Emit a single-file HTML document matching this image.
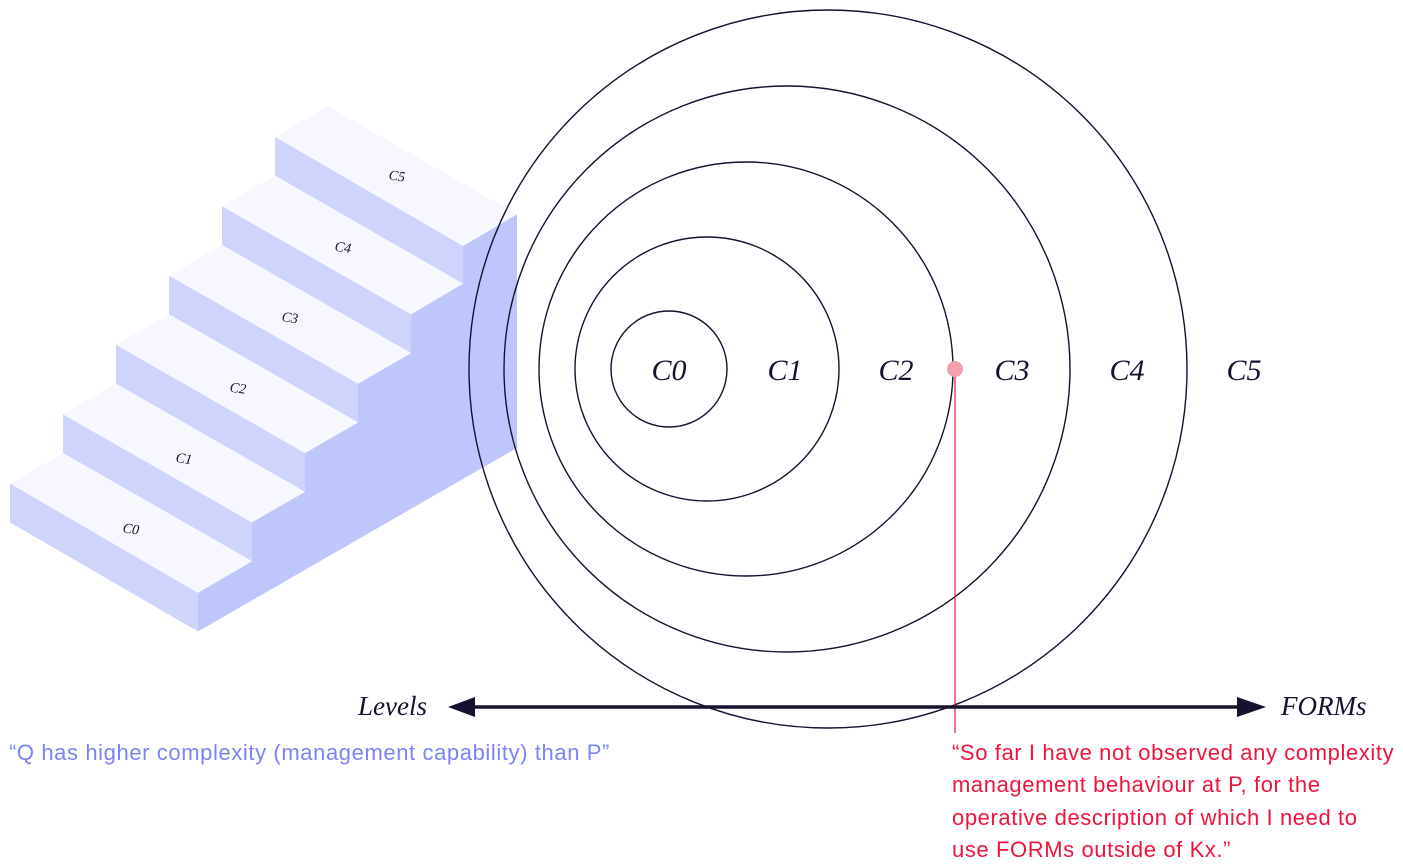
<!DOCTYPE html>
<html><head><meta charset="utf-8"><style>
html,body{margin:0;padding:0;background:#fff;}
svg{display:block;}
</style></head><body>
<svg width="1403" height="868" viewBox="0 0 1403 868" xmlns="http://www.w3.org/2000/svg">
<g transform="translate(0,-4) scale(1,1.02)">
<polygon points="198,623 198,585 252,554 252,516 305,486 305,448 358,418 358,380 411,350 411,312 463,282 463,245 517,214 517,443" fill="#bfc6fc"/>
<polygon points="10,478 198,585 198,623 10,516" fill="#cfd4fd"/>
<polygon points="10,478 63,448 252,554 198,585" fill="#f7f8ff"/>
<polygon points="63,410 252,516 252,554 63,448" fill="#cfd4fd"/>
<polygon points="63,410 116,380 305,486 252,516" fill="#f7f8ff"/>
<polygon points="116,342 305,448 305,486 116,380" fill="#cfd4fd"/>
<polygon points="116,342 169,312 358,418 305,448" fill="#f7f8ff"/>
<polygon points="169,274 358,380 358,418 169,312" fill="#cfd4fd"/>
<polygon points="169,274 222,244 411,350 358,380" fill="#f7f8ff"/>
<polygon points="222,206 411,312 411,350 222,244" fill="#cfd4fd"/>
<polygon points="222,206 275,176 463,282 411,312" fill="#f7f8ff"/>
<polygon points="275,138 463,245 463,282 275,176" fill="#cfd4fd"/>
<polygon points="275,138 328,108 517,214 463,245" fill="#f7f8ff"/>
<g font-family="Liberation Serif, serif" font-style="italic" font-size="14" fill="#14122e" text-anchor="middle">
<text x="131" y="527" transform="rotate(8 131 522)">C0</text>
<text x="184" y="458" transform="rotate(8 184 453)">C1</text>
<text x="238" y="389" transform="rotate(8 238 384)">C2</text>
<text x="290" y="320" transform="rotate(8 290 315)">C3</text>
<text x="343" y="251" transform="rotate(8 343 246)">C4</text>
<text x="397" y="181" transform="rotate(8 397 176)">C5</text>
</g>
</g>
<g fill="none" stroke="#14122e" stroke-width="1.4">
<circle cx="669" cy="369" r="58"/>
<circle cx="707" cy="369" r="132"/>
<circle cx="746" cy="369" r="207"/>
<circle cx="787" cy="369" r="283"/>
<circle cx="828" cy="369" r="359"/>
</g>
<g font-family="Liberation Serif, serif" font-style="italic" font-size="30" fill="#14122e" text-anchor="middle">
<text x="669" y="380">C0</text>
<text x="785" y="380">C1</text>
<text x="896" y="380">C2</text>
<text x="1012" y="380">C3</text>
<text x="1127" y="380">C4</text>
<text x="1244" y="380">C5</text>
</g>
<line x1="955" y1="369" x2="955" y2="733" stroke="#f0143c" stroke-width="1.2"/>
<circle cx="955" cy="369" r="8" fill="#f5a0ae"/>
<line x1="465" y1="707" x2="1248" y2="707" stroke="#14122e" stroke-width="3.5"/>
<polygon points="448,707 475,697 475,717" fill="#14122e"/>
<polygon points="1266,707 1237,697 1237,717" fill="#14122e"/>
<g font-family="Liberation Serif, serif" font-style="italic" font-size="27" fill="#14122e">
<text x="358" y="715">Levels</text>
<text x="1281" y="715">FORMs</text>
</g>
<g font-family="Liberation Sans, sans-serif" font-size="22" letter-spacing="0.6">
<text x="9" y="760" fill="#7b83f5">“Q has higher complexity (management capability) than P”</text>
<g fill="#f0143c">
<text x="952" y="760">“So far I have not observed any complexity</text>
<text x="952" y="792">management behaviour at P, for the</text>
<text x="952" y="825">operative description of which I need to</text>
<text x="952" y="857">use FORMs outside of Kx.”</text>
</g>
</g>
</svg>
</body></html>
